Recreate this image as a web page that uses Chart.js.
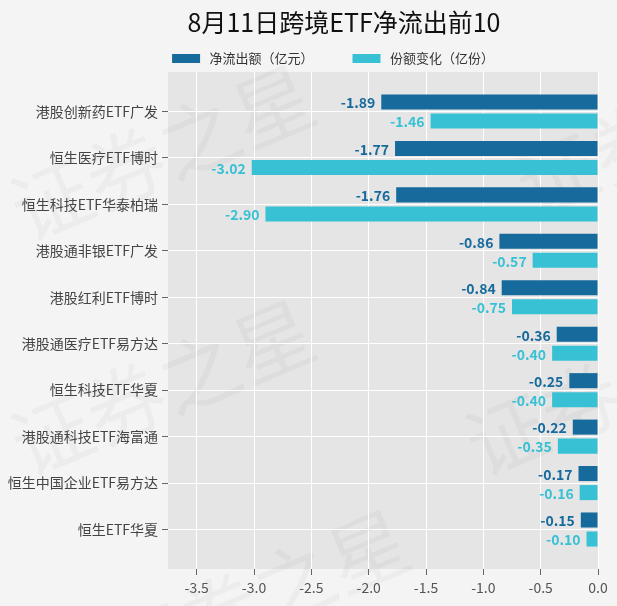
<!DOCTYPE html>
<html>
<head>
<meta charset="utf-8">
<script src="https://cdn.jsdelivr.net/npm/chart.js@4"></script>
<style>
  html, body { margin: 0; padding: 0; background: #f4f4f4; }
  #wrap { width: 617px; height: 606px; }
</style>
</head>
<body>
<div id="wrap"><canvas id="etfChart" width="617" height="606"></canvas></div>
<script>
const categories = ['港股创新药ETF广发', '恒生医疗ETF博时', '恒生科技ETF华泰柏瑞', '港股通非银ETF广发', '港股红利ETF博时',
  '港股通医疗ETF易方达', '恒生科技ETF华夏', '港股通科技ETF海富通', '恒生中国企业ETF易方达', '恒生ETF华夏'];
const netOutflow = [-1.89, -1.77, -1.76, -0.86, -0.84, -0.36, -0.25, -0.22, -0.17, -0.15];
const shareChange = [-1.46, -3.02, -2.90, -0.57, -0.75, -0.40, -0.40, -0.35, -0.16, -0.10];
const seriesNames = ['净流出额（亿元）', '份额变化（亿份）'];
const xTicks = [-3.5, -3.0, -2.5, -2.0, -1.5, -1.0, -0.5, 0.0];

const palette = ['#176a9c', '#38c1d4'];
const fontFamily = '"Noto Sans CJK SC", "Noto Sans", sans-serif';

const toPoints = (values) => values.map((value, idx) => ({ x: value, y: idx }));

const backdrop = {
  id: 'backdrop',
  beforeDraw(chart) {
    const { ctx, chartArea, width, height } = chart;
    ctx.save();
    ctx.fillStyle = '#f4f4f4';
    ctx.fillRect(0, 0, width, height);
    ctx.fillStyle = '#e5e5e5';
    ctx.fillRect(chartArea.left, chartArea.top, chartArea.right - chartArea.left, chartArea.bottom - chartArea.top);

    // faint watermark
    ctx.fillStyle = 'rgba(0, 0, 0, 0.03)';
    ctx.font = `80px ${fontFamily}`;
    ctx.textBaseline = 'middle';
    ctx.textAlign = 'left';
    [[15, 215], [520, 190], [15, 450], [470, 450], [110, 660]].forEach(([x, y]) => {
      ctx.save();
      ctx.translate(x, y);
      ctx.rotate(-0.4);
      ctx.fillText('证券之星', 0, 0);
      ctx.restore();
    });
    ctx.restore();
  },
};

// nudge title and legend to where the original sits
const headerShift = {
  id: 'headerShift',
  afterLayout(chart) {
    const shift = (box, dx) => {
      if (!box) {
        return;
      }
      box.left += dx;
      box.right += dx;
    };
    shift(chart.titleBlock, 41);
    shift(chart.legend, 30);
  },
};

const barLabels = {
  id: 'barLabels',
  afterDatasetsDraw(chart) {
    const { ctx } = chart;
    ctx.save();
    ctx.font = `bold 14px ${fontFamily}`;
    ctx.textAlign = 'right';
    ctx.textBaseline = 'middle';
    chart.data.datasets.forEach((dataset, di) => {
      const meta = chart.getDatasetMeta(di);
      ctx.fillStyle = dataset.backgroundColor;
      meta.data.forEach((bar, i) => {
        ctx.fillText(dataset.data[i].x.toFixed(2), bar.x - 6, bar.y + 1);
      });
    });
    ctx.restore();
  },
};

new Chart(document.getElementById('etfChart').getContext('2d'), {
  type: 'bar',
  data: {
    datasets: [
      { label: seriesNames[0], data: toPoints(netOutflow), backgroundColor: palette[0] },
      { label: seriesNames[1], data: toPoints(shareChange), backgroundColor: palette[1] },
    ],
  },
  options: {
    responsive: false,
    animation: false,
    indexAxis: 'y',
    categoryPercentage: 0.82,
    barPercentage: 0.79,
    layout: { padding: { left: 8, right: 19, top: 0, bottom: 9 } },
    scales: {
      x: {
        type: 'linear',
        min: -3.75,
        max: 0,
        afterBuildTicks: (axis) => { axis.ticks = xTicks.map((value) => ({ value })); },
        afterFit: (axis) => { axis.height = 28; },
        ticks: {
          color: '#555',
          font: { family: fontFamily, size: 14 },
          padding: 4,
          callback: (value) => Number(value).toFixed(1),
        },
        grid: { color: '#ffffff', lineWidth: 1, tickLength: 6, tickColor: '#666' },
        border: { display: false },
      },
      y: {
        type: 'linear',
        reverse: true,
        offset: false,
        min: -0.85,
        max: 9.85,
        afterBuildTicks: (axis) => { axis.ticks = categories.map((_, idx) => ({ value: idx })); },
        afterFit: (axis) => { axis.width = 160; },
        ticks: {
          color: '#444',
          font: { family: fontFamily, size: 14 },
          padding: 4,
          callback: (value) => categories[value] ?? '',
        },
        grid: { color: '#ffffff', lineWidth: 1, tickLength: 6, tickColor: '#666', offset: false },
        border: { display: false },
      },
    },
    plugins: {
      title: {
        display: true,
        text: '8月11日跨境ETF净流出前10',
        color: '#111',
        font: { family: fontFamily, size: 25, weight: 'normal' },
        padding: { top: 7, bottom: -24 },
      },
      legend: {
        display: true,
        maxHeight: 59,
        labels: {
          color: '#333',
          font: { family: fontFamily, size: 13 },
          boxWidth: 28,
          boxHeight: 9,
          padding: 39,
          generateLabels: (chart) => Chart.defaults.plugins.legend.labels.generateLabels(chart)
            .map((item) => ({ ...item, text: ` ${item.text}` })),
        },
      },
      tooltip: { enabled: false },
    },
  },
  plugins: [backdrop, headerShift, barLabels],
});
</script>
</body>
</html>
